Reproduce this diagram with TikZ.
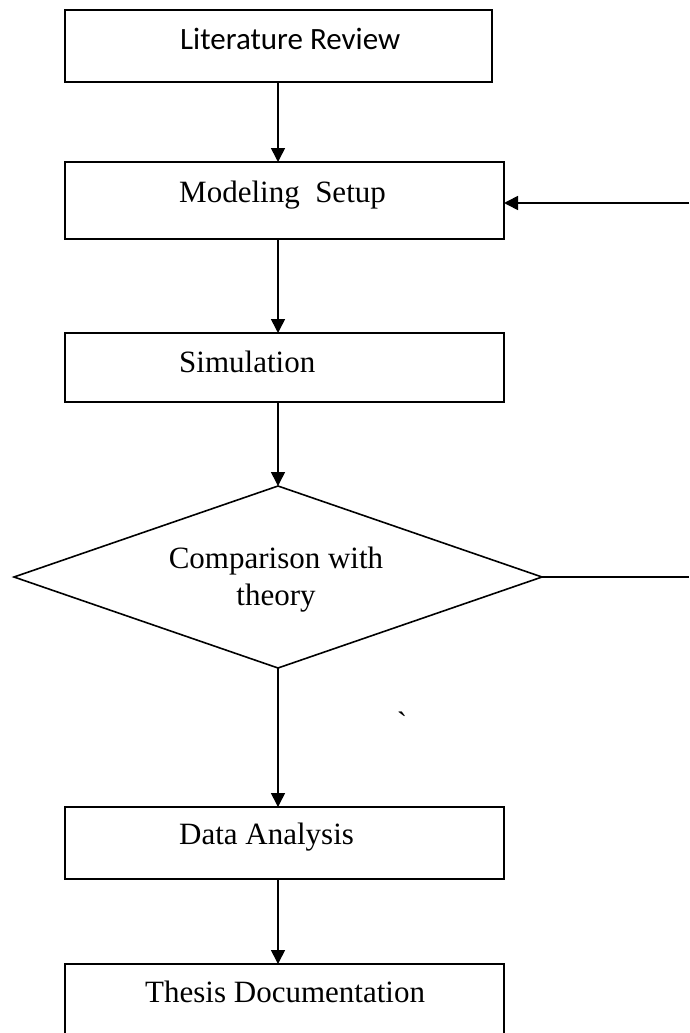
\documentclass[tikz,border=0pt]{standalone}
\usepackage{fontspec}
\setmainfont{Liberation Serif}
\newfontfamily\calfont{Carlito}
\usetikzlibrary{shapes.geometric,arrows.meta}
\begin{document}
\begin{tikzpicture}[x=1pt,y=-1pt,
  stepbox/.style={draw,line width=1.6pt,rectangle,inner sep=0pt,outer sep=0pt},
  decbox/.style={draw,line width=1.6pt,diamond,inner sep=0pt,outer sep=0pt},
  lbl/.style={anchor=base west,inner sep=0pt,font=\fontsize{31}{36}\selectfont},
  arr/.style={line width=1.6pt,-{Triangle[length=14pt,width=14pt]}},
  ln/.style={line width=1.6pt}]
\fill[white] (0,0) rectangle (689,1033);
\useasboundingbox (0,0) rectangle (689,1033);
\node[stepbox,minimum width=427pt,minimum height=72pt] (lit) at (278.5,46) {};
\node[stepbox,minimum width=439pt,minimum height=77pt] (model) at (284.5,200.5) {};
\node[stepbox,minimum width=439pt,minimum height=69pt] (sim) at (284.5,367.5) {};
\node[decbox,minimum width=528pt,minimum height=182pt] (cmp) at (278,577) {};
\node[stepbox,minimum width=439pt,minimum height=72pt] (data) at (284.5,843) {};
\node[stepbox,minimum width=439pt,minimum height=106pt] (thesis) at (284.5,1017) {};
\node[lbl,font=\calfont\fontsize{31}{36}\selectfont] (tlit) at (180,50) {Literature Review};
\node[lbl] (tmodel) at (179,202) {Modeling\ \ Setup};
\node[lbl] (tsim) at (179,372) {Simulation};
\node[lbl,anchor=base] (tcmp1) at (276,568) {Comparison with};
\node[lbl,anchor=base] (tcmp2) at (276,605) {theory};
\node[lbl] (tdata) at (179,844) {Data Analysis};
\node[lbl] (tthesis) at (145,1002) {Thesis Documentation};
\node[lbl,anchor=north] (tick) at (402,712) {\textasciigrave};
\coordinate (col) at (278,0);
\coordinate (fbin) at (689,203);
\coordinate (fbout) at (689,577);
\draw[arr] (col |- lit.south) -- (col |- model.north);
\draw[arr] (col |- model.south) -- (col |- sim.north);
\draw[arr] (col |- sim.south) -- (cmp.north);
\draw[arr] (cmp.south) -- (col |- data.north);
\draw[arr] (col |- data.south) -- (col |- thesis.north);
\draw[ln] (cmp.east) -- (fbout);
\draw[arr] (fbin) -- (fbin -| model.east);
\end{tikzpicture}
\end{document}
